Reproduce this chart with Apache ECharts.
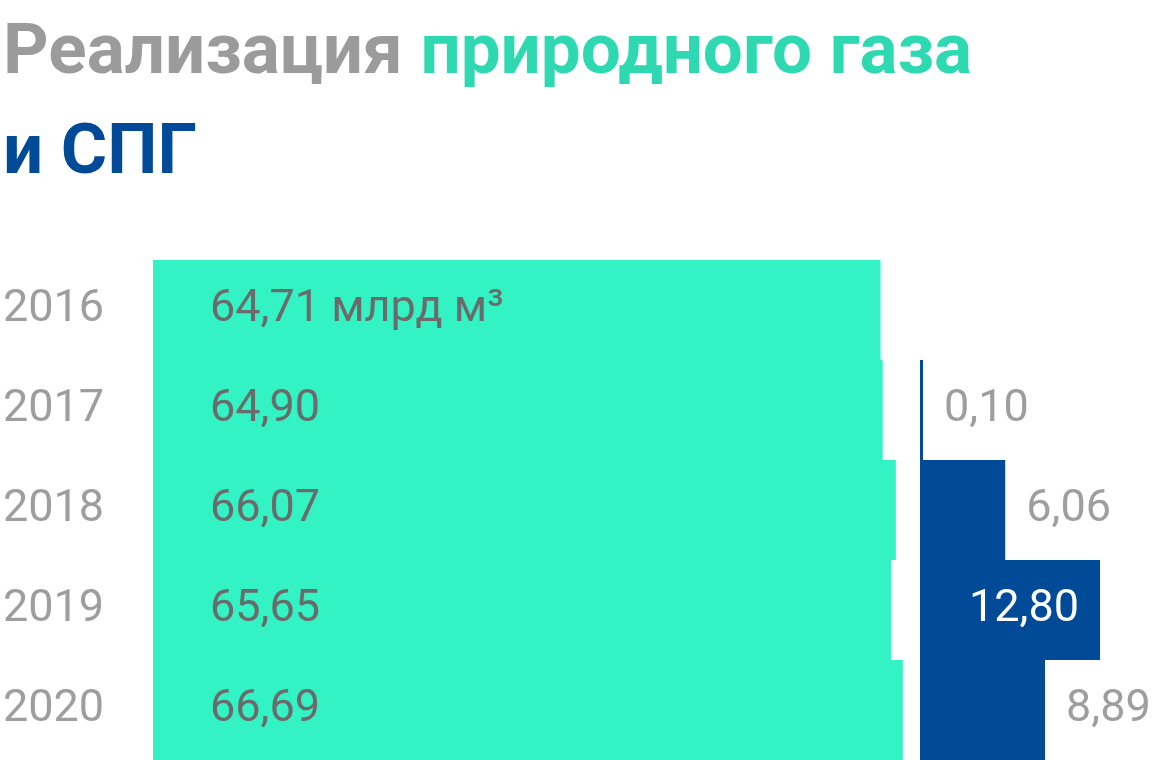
<!DOCTYPE html>
<html>
<head>
<meta charset="utf-8">
<script src="https://cdn.jsdelivr.net/npm/echarts@6/dist/echarts.min.js"></script>
<style>
  html, body { margin: 0; padding: 0; background: #fff; }
  #chart { width: 1160px; height: 760px; }
</style>
</head>
<body>
<div id="chart"></div>
<script>
// данные
const years = ['2016', '2017', '2018', '2019', '2020'];
const gasValues = [64.71, 64.90, 66.07, 65.65, 66.69]; // природный газ, млрд м³
const lngValues = [null, 0.10, 6.06, 12.80, 8.89];     // СПГ

const FONT = 'Roboto, "Noto Sans", sans-serif';
const fmt = v => v.toFixed(2).replace('.', ',');

const chart = echarts.init(document.getElementById('chart'));

const lngData = lngValues.map(v => {
  if (v == null) return '-';
  if (v >= 10) {
    return { value: v, label: { position: 'insideRight', color: '#ffffff' } };
  }
  return v;
});

chart.setOption({
  animation: false,
  title: {
    left: -2,
    top: 0,
    text: '{g|Реализация }{t|природного газа}\n{b|и СПГ}',
    textStyle: {
      fontFamily: FONT,
      rich: {
        g: { color: '#9b9b9b', fontSize: 71, fontWeight: 'bold', fontFamily: FONT, lineHeight: 100 },
        t: { color: '#2ed8b0', fontSize: 71, fontWeight: 'bold', fontFamily: FONT, lineHeight: 100 },
        b: { color: '#004a97', fontSize: 71, fontWeight: 'bold', fontFamily: FONT, lineHeight: 100 }
      }
    }
  },
  grid: [
    { left: 148, top: 260, width: 792, height: 500 },
    { left: 920, top: 260, width: 211, height: 500 }
  ],
  xAxis: [
    { gridIndex: 0, type: 'value', min: 0, max: 70, show: false },
    { gridIndex: 1, type: 'value', min: 0, max: 15, show: false }
  ],
  yAxis: [
    {
      gridIndex: 0, type: 'category', data: years, inverse: true,
      axisLine: { show: false }, axisTick: { show: false },
      axisLabel: { align: 'left', margin: 150, color: '#9e9e9e', fontSize: 45, fontFamily: FONT }
    },
    {
      gridIndex: 1, type: 'category', data: years, inverse: true, show: false
    }
  ],
  series: [
    {
      type: 'bar', xAxisIndex: 0, yAxisIndex: 0,
      data: gasValues,
      barCategoryGap: '0%',
      itemStyle: { color: '#33f3c5' },
      label: {
        show: true, position: 'insideLeft', distance: 57,
        color: '#6b6b6b', fontSize: 45, fontFamily: FONT,
        formatter: p => p.dataIndex === 0 ? fmt(p.value) + ' млрд м³' : fmt(p.value)
      }
    },
    {
      type: 'bar', xAxisIndex: 1, yAxisIndex: 1,
      data: lngData,
      barCategoryGap: '0%',
      barMinHeight: 3,
      itemStyle: { color: '#004a97' },
      label: {
        show: true, position: 'right', distance: 21,
        color: '#9e9e9e', fontSize: 45, fontFamily: FONT,
        formatter: p => fmt(p.value)
      }
    }
  ]
});
</script>
</body>
</html>
